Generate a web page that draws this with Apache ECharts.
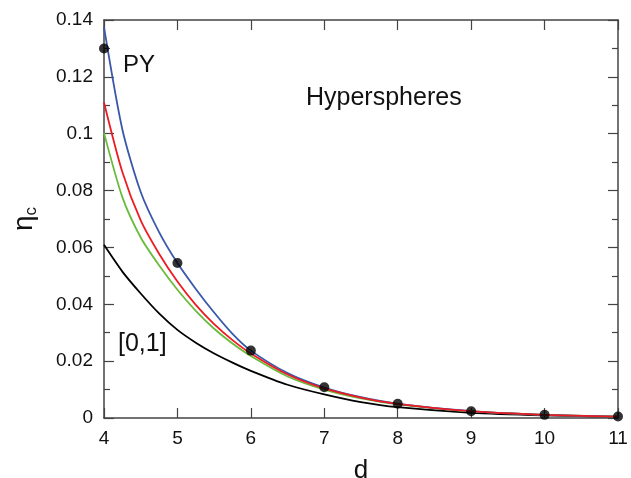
<!DOCTYPE html>
<html>
<head>
<meta charset="utf-8">
<script src="https://cdn.jsdelivr.net/npm/echarts@6/dist/echarts.min.js"></script>
<style>
html,body{margin:0;padding:0;background:#fff;}
#chart{width:631px;height:478px;}
</style>
</head>
<body>
<div id="chart"></div>
<script>
// ---- data ----
var dCurve = [4, 4.25, 4.5, 4.75, 5, 5.25, 5.5, 5.75, 6, 6.5, 7, 7.5, 8, 9, 10, 11];
var blueCurve  = [0.1375, 0.1015, 0.0795, 0.0654, 0.0545, 0.0454, 0.0371, 0.0296, 0.0237, 0.0158, 0.0107, 0.0073, 0.0050, 0.0024, 0.0011, 0.0005];
var redCurve   = [0.1110, 0.0865, 0.0695, 0.0578, 0.0480, 0.0398, 0.0330, 0.0274, 0.0227, 0.0153, 0.0104, 0.0072, 0.0050, 0.0024, 0.0011, 0.0005];
var greenCurve = [0.1003, 0.0777, 0.0635, 0.0537, 0.0451, 0.0377, 0.0314, 0.0262, 0.0218, 0.0146, 0.0100, 0.0069, 0.0048, 0.0023, 0.0011, 0.0005];
var blackCurve = [0.0609, 0.0515, 0.0438, 0.0368, 0.0310, 0.0265, 0.0227, 0.0195, 0.0166, 0.0117, 0.0083, 0.0056, 0.0038, 0.0018, 0.0009, 0.0004];
var dPoints = [4, 5, 6, 7, 8, 9, 10, 11];
var pointValues = [0.130, 0.0545, 0.0237, 0.0108, 0.0050, 0.0024, 0.0011, 0.0005];
var xTicks = [4, 5, 6, 7, 8, 9, 10, 11];
var yTicks = [0, 0.02, 0.04, 0.06, 0.08, 0.1, 0.12, 0.14];

function pairs(xs, ys) { return xs.map(function (x, i) { return [x, ys[i]]; }); }

var FONT = '"Liberation Sans", Arial, Helvetica, sans-serif';
var AX = '#444';

var chart = echarts.init(document.getElementById('chart'), null, {renderer: 'canvas'});

function lineSeries(name, ys, color, z) {
  return {
    name: name, type: 'line', data: pairs(dCurve, ys),
    smooth: 0.25, showSymbol: false, symbol: 'none',
    lineStyle: {color: color, width: 1.8}, z: z, clip: false, animation: false
  };
}

var option = {
  animation: false,
  backgroundColor: '#fff',
  grid: {left: 104, right: 13, top: 20, bottom: 60, containLabel: false, outerBoundsMode: 'none'},
  xAxis: [{
    type: 'value', min: xTicks[0], max: xTicks[xTicks.length - 1], interval: 1,
    position: 'bottom',
    name: 'd', nameLocation: 'middle', nameGap: 40,
    nameTextStyle: {fontFamily: FONT, fontSize: 26, color: '#111'},
    axisLine: {show: true, onZero: false, lineStyle: {color: AX, width: 1.5}},
    axisTick: {show: true, inside: true, length: 10, lineStyle: {color: AX, width: 1.2}},
    minorTick: {show: false},
    splitLine: {show: false},
    axisLabel: {fontFamily: FONT, fontSize: 19, color: '#111', margin: 11}
  }, {
    type: 'value', min: xTicks[0], max: xTicks[xTicks.length - 1], interval: 1,
    position: 'top',
    axisLine: {show: true, onZero: false, lineStyle: {color: AX, width: 1.5}},
    axisTick: {show: true, inside: true, length: 10, lineStyle: {color: AX, width: 1.2}},
    splitLine: {show: false},
    axisLabel: {show: false}
  }],
  yAxis: [{
    type: 'value', min: 0, max: 0.14, interval: 0.02,
    position: 'left',
    name: '{eta|η}{sub|c}', nameLocation: 'middle', nameGap: 64, nameRotate: 90,
    nameTextStyle: {
      fontFamily: FONT, color: '#111',
      rich: {
        eta: {fontFamily: FONT, fontSize: 28, color: '#111'},
        sub: {fontFamily: FONT, fontSize: 17, color: '#111', verticalAlign: 'bottom', padding: [14, 0, 0, 0]}
      }
    },
    axisLine: {show: true, onZero: false, lineStyle: {color: AX, width: 1.5}},
    axisTick: {show: true, inside: true, length: 10, lineStyle: {color: AX, width: 1.2}},
    minorTick: {show: true, splitNumber: 2, length: 6, lineStyle: {color: AX, width: 1.2}},
    splitLine: {show: false},
    axisLabel: {fontFamily: FONT, fontSize: 19, color: '#111', margin: 11,
      formatter: function (v) { return String(+v.toFixed(2)); }}
  }, {
    type: 'value', min: 0, max: 0.14, interval: 0.02,
    position: 'right',
    axisLine: {show: true, onZero: false, lineStyle: {color: AX, width: 1.5}},
    axisTick: {show: true, inside: true, length: 10, lineStyle: {color: AX, width: 1.2}},
    minorTick: {show: true, splitNumber: 2, length: 6, lineStyle: {color: AX, width: 1.2}},
    splitLine: {show: false},
    axisLabel: {show: false}
  }],
  graphic: [
    {type: 'text', left: 123, top: 53, style: {text: 'PY', fontFamily: FONT, fontSize: 24, fill: '#111'}},
    {type: 'text', left: 306, top: 86, style: {text: 'Hyperspheres', fontFamily: FONT, fontSize: 25, fill: '#111'}},
    {type: 'text', left: 118, top: 332, style: {text: '[0,1]', fontFamily: FONT, fontSize: 25, fill: '#111'}}
  ],
  series: [
    lineSeries('[0,1]', blackCurve, '#000000', 2),
    lineSeries('green', greenCurve, '#6abb3c', 3),
    lineSeries('blue', blueCurve, '#3a58aa', 4),
    lineSeries('red', redCurve, '#ec1c24', 5),
    {
      name: 'simulation', type: 'scatter', data: pairs(dPoints, pointValues),
      symbol: 'circle', symbolSize: 10, itemStyle: {color: '#000'}, z: 6, clip: false
    }
  ]
};
chart.setOption(option);
</script>
</body>
</html>
